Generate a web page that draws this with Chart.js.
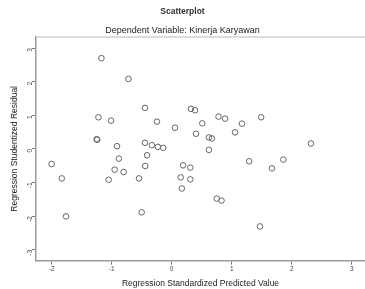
<!DOCTYPE html>
<html>
<head>
<meta charset="utf-8">
<script src="https://cdn.jsdelivr.net/npm/chart.js@4/dist/chart.umd.min.js"></script>
<style>
	html, body {margin:0;padding:0;background:#fff;}
	#wrap {width:365px;height:289px;}
</style>
</head>
<body>
<div id="wrap"><canvas id="scatter" width="365" height="289"></canvas></div>
<script>
// predicted values (x) and studentized residuals (y)
const predicted = [
	-1.17, -0.72, -0.445, 0.32, 0.39, -1.22, -1.01, -0.245, 0.055, 0.405,
	-1.25, -1.24, -0.91, -0.445, -0.33, -0.23, -0.14, -0.41, -0.88, 0.51,
	0.78, 0.89, 1.17, 1.49, 0.62, 0.67, 1.055, 2.32, 0.62, -2.0,
	-1.83, -1.76, -0.95, -0.8, -0.44, -1.05, -0.545, -0.5, 0.19, 0.31,
	0.15, 0.31, 0.17, 1.29, 1.67, 1.86, 0.75, 0.83, 1.47
]
const residual = [
	2.70, 2.08, 1.22, 1.19, 1.15, 0.94, 0.84, 0.81, 0.63, 0.45,
	0.29, 0.27, 0.08, 0.18, 0.11, 0.06, 0.03, -0.19, -0.29, 0.76,
	0.96, 0.90, 0.75, 0.94, 0.34, 0.31, 0.49, 0.16, -0.03, -0.45,
	-0.88, -2.01, -0.62, -0.69, -0.51, -0.92, -0.88, -1.89, -0.49, -0.56,
	-0.85, -0.91, -1.18, -0.37, -0.58, -0.32, -1.48, -1.54, -2.31
]
const xTicks = [-2, -1, 0, 1, 2, 3]
const yTicks = [-3, -2, -1, 0, 1, 2, 3]

const points = predicted.map((x, i) => ({x: x, y: residual[i]}))

// light line along the top of the plot frame
const topFrame = {
	id: 'topFrame',
	afterDraw(chart) {
		const a = chart.chartArea
		const c = chart.ctx
		c.save()
		c.strokeStyle = '#d0d0d0'
		c.lineWidth = 1.5
		c.beginPath()
		c.moveTo(a.left, a.top)
		c.lineTo(chart.width, a.top)
		c.stroke()
		c.restore()
	}
}

const ctx = document.getElementById('scatter').getContext('2d')
new Chart(ctx, {
	type: 'scatter',
	data: {
		datasets: [{
			data: points,
			pointRadius: 2.8,
			pointHoverRadius: 2.8,
			borderWidth: 1,
			borderColor: '#666',
			backgroundColor: 'rgba(0,0,0,0)',
		}],
	},
	plugins: [topFrame],
	options: {
		responsive: false,
		animation: false,
		layout: {autoPadding: false, padding: {left: 0, right: 0, top: 0, bottom: 0}},
		plugins: {
			legend: {display: false},
			tooltip: {enabled: false},
			title: {
				display: true,
				text: 'Scatterplot',
				color: '#333',
				font: {family: 'Liberation Sans', size: 8.5, weight: 'bold'},
				padding: {top: 7, bottom: 8},
			},
			subtitle: {
				display: true,
				text: 'Dependent Variable: Kinerja Karyawan',
				color: '#222',
				font: {family: 'Liberation Sans', size: 9},
				padding: {top: 0, bottom: 1},
			},
		},
		scales: {
			x: {
				type: 'linear',
				min: -2.26,
				max: 3.22,
				afterBuildTicks: (scale) => { scale.ticks = xTicks.map(v => ({value: v})) },
				afterFit: (scale) => { scale.height = 28.3 },
				border: {color: '#9a9a9a', width: 1.5},
				grid: {drawOnChartArea: false, tickLength: 4, color: '#777'},
				ticks: {color: '#444', padding: 1, font: {family: 'Liberation Sans', size: 6.5}},
				title: {
					display: true,
					text: 'Regression Standardized Predicted Value',
					color: '#222',
					font: {family: 'Liberation Sans', size: 8.5},
					padding: {top: 0, bottom: 0},
				},
			},
			y: {
				type: 'linear',
				min: -3.33,
				max: 3.33,
				afterBuildTicks: (scale) => { scale.ticks = yTicks.map(v => ({value: v})) },
				afterFit: (scale) => { scale.width = 36 },
				border: {color: '#9a9a9a', width: 1.5},
				grid: {drawOnChartArea: false, tickLength: 4, color: '#777'},
				ticks: {color: '#444', padding: 2, minRotation: 90, maxRotation: 90, font: {family: 'Liberation Sans', size: 6.5}},
				title: {
					display: true,
					text: 'Regression Studentized Residual',
					color: '#222',
					font: {family: 'Liberation Sans', size: 8.5},
					padding: {top: 10, bottom: 0},
				},
			},
		},
	},
})
</script>
</body>
</html>
